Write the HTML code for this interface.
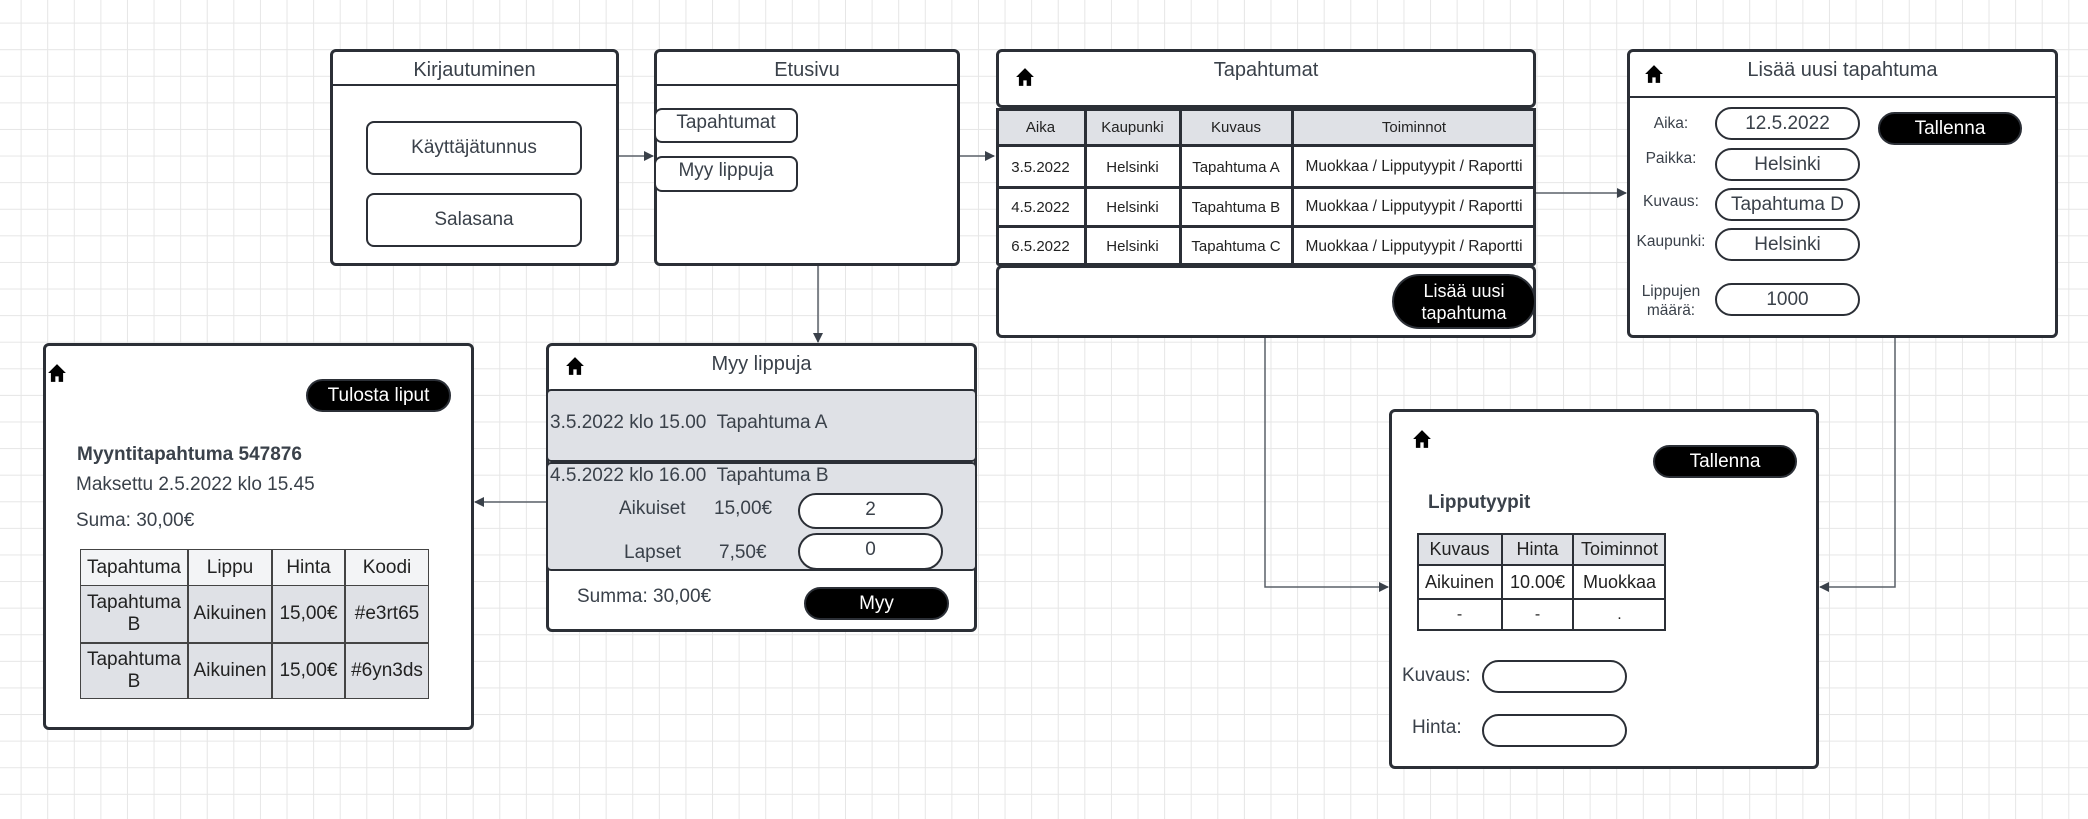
<!DOCTYPE html>
<html><head><meta charset="utf-8"><style>
*{box-sizing:border-box;margin:0;padding:0}
body{width:2088px;height:819px;position:relative;overflow:hidden;font-family:"Liberation Sans",sans-serif;color:#3a414a;
background-color:#fff;background-image:linear-gradient(#e6e6e6 1px,transparent 1px),linear-gradient(90deg,#e6e6e6 1px,transparent 1px);background-size:26.6px 26.6px;background-position:-6px -4px}
.a{position:absolute}
.box{position:absolute;border:3px solid #2b2f36;border-radius:6px;background:#fff}
.t{position:absolute;white-space:nowrap;text-align:center}
.fld{position:absolute;border:2px solid #2b2f36;border-radius:8px;background:#fff;display:flex;align-items:center;justify-content:center;font-size:19px}
.pill{position:absolute;border:2px solid #2b2f36;border-radius:20px;background:#fff;display:flex;align-items:center;justify-content:center;font-size:19px}
.btn{position:absolute;background:#000;color:#fff;border-radius:20px;display:flex;align-items:center;justify-content:center;font-size:19px;border:2px solid #2b2f36}
.c{position:absolute;display:flex;align-items:center;justify-content:center;text-align:center;font-size:15px;color:#222}
.home{position:absolute;width:20px;height:20px}
</style></head><body>
<svg class="a" style="left:0;top:0" width="2088" height="819">
<defs><marker id="m" markerWidth="10" markerHeight="10" refX="9" refY="5" orient="auto" markerUnits="userSpaceOnUse"><path d="M0,0 L10,5 L0,10z" fill="#3a414a"/></marker></defs>
<g stroke="#5a6068" stroke-width="1.5" fill="none" marker-end="url(#m)">
<line x1="618" y1="156" x2="653" y2="156"/>
<line x1="959" y1="156" x2="994" y2="156"/>
<line x1="1535" y1="193" x2="1626" y2="193"/>
<line x1="818" y1="265" x2="818" y2="342"/>
<line x1="546" y1="502" x2="475" y2="502"/>
<path d="M1265,337 V587 H1388"/>
<path d="M1895,337 V587 H1820"/>
</g></svg>

<!-- Kirjautuminen -->
<div class="box" style="left:330px;top:49px;width:289px;height:217px"></div>
<div class="a" style="left:332px;top:84px;width:285px;height:2px;background:#2b2f36"></div>
<div class="t" style="left:330px;top:59px;width:289px;font-size:20px">Kirjautuminen</div>
<div class="fld" style="left:366px;top:121px;width:216px;height:54px">Käyttäjätunnus</div>
<div class="fld" style="left:366px;top:193px;width:216px;height:54px">Salasana</div>

<!-- Etusivu -->
<div class="box" style="left:654px;top:49px;width:306px;height:217px"></div>
<div class="a" style="left:656px;top:84px;width:302px;height:2px;background:#2b2f36"></div>
<div class="t" style="left:654px;top:59px;width:306px;font-size:20px">Etusivu</div>
<div class="fld" style="left:654px;top:108px;width:144px;height:35px;align-items:flex-start;padding-top:2px">Tapahtumat</div>
<div class="fld" style="left:654px;top:156px;width:144px;height:36px;align-items:flex-start;padding-top:2px">Myy lippuja</div>

<!-- Tapahtumat -->
<div class="box" style="left:996px;top:49px;width:540px;height:59px"></div>
<div class="t" style="left:996px;top:59px;width:540px;font-size:20px">Tapahtumat</div>
<svg class="home" style="left:1015px;top:67px" viewBox="0 0 18 18"><path d="M9 1 L1 9 H3.5 V17 H7.5 V12 H10.5 V17 H14.5 V9 H17z" fill="#000"/></svg>
<div class="a" style="left:996px;top:108px;width:540px;height:158px;border:3px solid #2b2f36;border-radius:3px;background:#fff"></div>
<div class="a" style="left:996px;top:108px;width:540px;height:39px;background:#dfe1e6;border:3px solid #2b2f36"></div>
<div class="a" style="left:996px;top:186px;width:540px;height:3px;background:#2b2f36"></div>
<div class="a" style="left:996px;top:225px;width:540px;height:3px;background:#2b2f36"></div>
<div class="a" style="left:1084px;top:108px;width:3px;height:158px;background:#2b2f36"></div>
<div class="a" style="left:1179px;top:108px;width:3px;height:158px;background:#2b2f36"></div>
<div class="a" style="left:1291px;top:108px;width:3px;height:158px;background:#2b2f36"></div>
<div class="c" style="left:996px;top:108px;width:89px;height:39px">Aika</div>
<div class="c" style="left:1085px;top:108px;width:95px;height:39px">Kaupunki</div>
<div class="c" style="left:1180px;top:108px;width:112px;height:39px">Kuvaus</div>
<div class="c" style="left:1292px;top:108px;width:244px;height:39px">Toiminnot</div>
<div class="c" style="left:996px;top:147px;width:89px;height:40px">3.5.2022</div>
<div class="c" style="left:1085px;top:147px;width:95px;height:40px">Helsinki</div>
<div class="c" style="left:1180px;top:147px;width:112px;height:40px">Tapahtuma A</div>
<div class="c" style="left:1292px;top:147px;width:244px;height:40px;font-size:15.5px">Muokkaa / Lipputyypit / Raportti</div>
<div class="c" style="left:996px;top:187px;width:89px;height:40px">4.5.2022</div>
<div class="c" style="left:1085px;top:187px;width:95px;height:40px">Helsinki</div>
<div class="c" style="left:1180px;top:187px;width:112px;height:40px">Tapahtuma B</div>
<div class="c" style="left:1292px;top:187px;width:244px;height:40px;font-size:15.5px">Muokkaa / Lipputyypit / Raportti</div>
<div class="c" style="left:996px;top:227px;width:89px;height:39px">6.5.2022</div>
<div class="c" style="left:1085px;top:227px;width:95px;height:39px">Helsinki</div>
<div class="c" style="left:1180px;top:227px;width:112px;height:39px">Tapahtuma C</div>
<div class="c" style="left:1292px;top:227px;width:244px;height:39px;font-size:15.5px">Muokkaa / Lipputyypit / Raportti</div>
<div class="box" style="left:996px;top:265px;width:540px;height:73px"></div>
<div class="btn" style="left:1392px;top:274px;width:144px;height:55px;border-radius:28px;font-size:18px;line-height:22px;text-align:center">Lisää uusi<br>tapahtuma</div>

<!-- Lisää uusi tapahtuma -->
<div class="box" style="left:1627px;top:49px;width:431px;height:289px"></div>
<div class="a" style="left:1629px;top:96px;width:427px;height:2px;background:#2b2f36"></div>
<div class="t" style="left:1627px;top:59px;width:431px;font-size:20px">Lisää uusi tapahtuma</div>
<svg class="home" style="left:1644px;top:64px" viewBox="0 0 18 18"><path d="M9 1 L1 9 H3.5 V17 H7.5 V12 H10.5 V17 H14.5 V9 H17z" fill="#000"/></svg>
<div class="t" style="left:1631px;top:115px;width:80px;font-size:15.5px">Aika:</div>
<div class="t" style="left:1631px;top:150px;width:80px;font-size:15.5px">Paikka:</div>
<div class="t" style="left:1631px;top:193px;width:80px;font-size:15.5px">Kuvaus:</div>
<div class="t" style="left:1631px;top:233px;width:80px;font-size:15.5px">Kaupunki:</div>
<div class="t" style="left:1631px;top:282px;width:80px;font-size:15.5px;line-height:19px">Lippujen<br>määrä:</div>
<div class="pill" style="left:1715px;top:107px;width:145px;height:33px">12.5.2022</div>
<div class="pill" style="left:1715px;top:148px;width:145px;height:33px">Helsinki</div>
<div class="pill" style="left:1715px;top:188px;width:145px;height:33px">Tapahtuma D</div>
<div class="pill" style="left:1715px;top:228px;width:145px;height:33px">Helsinki</div>
<div class="pill" style="left:1715px;top:283px;width:145px;height:33px">1000</div>
<div class="btn" style="left:1878px;top:112px;width:144px;height:33px">Tallenna</div>

<!-- Lipputyypit -->
<div class="box" style="left:1389px;top:409px;width:430px;height:360px"></div>
<svg class="home" style="left:1412px;top:429px" viewBox="0 0 18 18"><path d="M9 1 L1 9 H3.5 V17 H7.5 V12 H10.5 V17 H14.5 V9 H17z" fill="#000"/></svg>
<div class="btn" style="left:1653px;top:445px;width:144px;height:33px">Tallenna</div>
<div class="t" style="left:1428px;top:492px;font-size:19px;font-weight:bold">Lipputyypit</div>
<div class="a" style="left:1417px;top:533px;width:249px;height:98px;border:2px solid #2b2f36;background:#fff"></div>
<div class="a" style="left:1417px;top:533px;width:249px;height:33px;border:2px solid #2b2f36;background:#dfe1e6"></div>
<div class="a" style="left:1417px;top:598px;width:249px;height:2px;background:#2b2f36"></div>
<div class="a" style="left:1501px;top:533px;width:2px;height:98px;background:#2b2f36"></div>
<div class="a" style="left:1572px;top:533px;width:2px;height:98px;background:#2b2f36"></div>
<div class="c" style="left:1417px;top:533px;width:85px;height:33px;font-size:18px">Kuvaus</div>
<div class="c" style="left:1502px;top:533px;width:71px;height:33px;font-size:18px">Hinta</div>
<div class="c" style="left:1573px;top:533px;width:93px;height:33px;font-size:18px">Toiminnot</div>
<div class="c" style="left:1417px;top:566px;width:85px;height:33px;font-size:18px">Aikuinen</div>
<div class="c" style="left:1502px;top:566px;width:71px;height:33px;font-size:18px">10.00€</div>
<div class="c" style="left:1573px;top:566px;width:93px;height:33px;font-size:18px">Muokkaa</div>
<div class="c" style="left:1417px;top:599px;width:85px;height:32px;font-size:16px">-</div>
<div class="c" style="left:1502px;top:599px;width:71px;height:32px;font-size:16px">-</div>
<div class="c" style="left:1573px;top:599px;width:93px;height:32px;font-size:16px">.</div>
<div class="t" style="left:1402px;top:665px;font-size:19px">Kuvaus:</div>
<div class="pill" style="left:1482px;top:660px;width:145px;height:33px"></div>
<div class="t" style="left:1412px;top:717px;font-size:19px">Hinta:</div>
<div class="pill" style="left:1482px;top:714px;width:145px;height:33px"></div>

<!-- Myy lippuja -->
<div class="box" style="left:546px;top:343px;width:431px;height:289px"></div>
<div class="t" style="left:546px;top:353px;width:431px;font-size:20px">Myy lippuja</div>
<svg class="home" style="left:565px;top:356px" viewBox="0 0 18 18"><path d="M9 1 L1 9 H3.5 V17 H7.5 V12 H10.5 V17 H14.5 V9 H17z" fill="#000"/></svg>
<div class="a" style="left:546px;top:389px;width:431px;height:73px;background:#dfe1e6;border:2px solid #2b2f36;border-radius:5px"></div>
<div class="a" style="left:546px;top:462px;width:431px;height:109px;background:#dfe1e6;border:2px solid #2b2f36;border-radius:5px"></div>
<div class="t" style="left:550px;top:412px;font-size:19px">3.5.2022 klo 15.00&nbsp; Tapahtuma A</div>
<div class="t" style="left:550px;top:465px;font-size:19px">4.5.2022 klo 16.00&nbsp; Tapahtuma B</div>
<div class="t" style="left:619px;top:498px;font-size:19px">Aikuiset</div>
<div class="t" style="left:714px;top:498px;font-size:19px">15,00€</div>
<div class="t" style="left:624px;top:542px;font-size:19px">Lapset</div>
<div class="t" style="left:719px;top:542px;font-size:19px">7,50€</div>
<div class="pill" style="left:798px;top:493px;width:145px;height:36px;align-items:flex-start;padding-top:4px">2</div>
<div class="pill" style="left:798px;top:533px;width:145px;height:37px;align-items:flex-start;padding-top:4px">0</div>
<div class="t" style="left:577px;top:586px;font-size:19px">Summa: 30,00€</div>
<div class="btn" style="left:804px;top:587px;width:145px;height:33px">Myy</div>

<!-- Receipt -->
<div class="box" style="left:43px;top:343px;width:431px;height:387px"></div>
<svg class="home" style="left:47px;top:363px" viewBox="0 0 18 18"><path d="M9 1 L1 9 H3.5 V17 H7.5 V12 H10.5 V17 H14.5 V9 H17z" fill="#000"/></svg>
<div class="btn" style="left:306px;top:379px;width:145px;height:33px">Tulosta liput</div>
<div class="t" style="left:77px;top:444px;font-size:19px;font-weight:bold">Myyntitapahtuma 547876</div>
<div class="t" style="left:76px;top:474px;font-size:19px">Maksettu 2.5.2022 klo 15.45</div>
<div class="t" style="left:76px;top:510px;font-size:19px">Suma: 30,00€</div>
<div class="a" style="left:80px;top:549px;width:349px;height:150px;border:1.5px solid #444;background:#dfe1e6"></div>
<div class="a" style="left:80px;top:549px;width:349px;height:37px;border:1.5px solid #444;background:#f3f4f6"></div>
<div class="a" style="left:80px;top:642px;width:349px;height:1.5px;background:#444"></div>
<div class="a" style="left:187px;top:549px;width:1.5px;height:150px;background:#444"></div>
<div class="a" style="left:271px;top:549px;width:1.5px;height:150px;background:#444"></div>
<div class="a" style="left:344px;top:549px;width:1.5px;height:150px;background:#444"></div>
<div class="c" style="left:80px;top:549px;width:108px;height:37px;font-size:19px">Tapahtuma</div>
<div class="c" style="left:188px;top:549px;width:84px;height:37px;font-size:19px">Lippu</div>
<div class="c" style="left:272px;top:549px;width:73px;height:37px;font-size:19px">Hinta</div>
<div class="c" style="left:345px;top:549px;width:84px;height:37px;font-size:19px">Koodi</div>
<div class="c" style="left:80px;top:586px;width:108px;height:56px;font-size:19px;line-height:22px">Tapahtuma<br>B</div>
<div class="c" style="left:188px;top:586px;width:84px;height:56px;font-size:19px">Aikuinen</div>
<div class="c" style="left:272px;top:586px;width:73px;height:56px;font-size:19px">15,00€</div>
<div class="c" style="left:345px;top:586px;width:84px;height:56px;font-size:19px">#e3rt65</div>
<div class="c" style="left:80px;top:642px;width:108px;height:57px;font-size:19px;line-height:22px">Tapahtuma<br>B</div>
<div class="c" style="left:188px;top:642px;width:84px;height:57px;font-size:19px">Aikuinen</div>
<div class="c" style="left:272px;top:642px;width:73px;height:57px;font-size:19px">15,00€</div>
<div class="c" style="left:345px;top:642px;width:84px;height:57px;font-size:19px">#6yn3ds</div>
</body></html>
